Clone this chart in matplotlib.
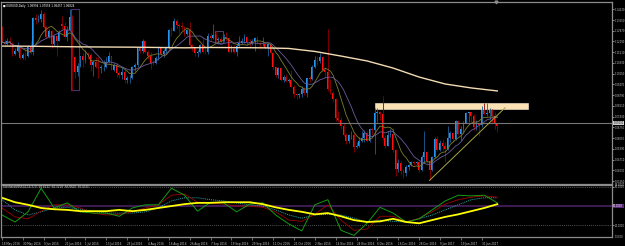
import matplotlib
matplotlib.use("Agg")
import matplotlib.pyplot as plt
from matplotlib.patches import Rectangle
from matplotlib.transforms import blended_transform_factory
import numpy as np
import pandas as pd

# EURUSD daily bars 18 May 2016 - 8 Feb 2017, prices in pips (x 10000)
opens = [11313, 11216, 11203, 11225, 11211, 11140, 11160, 11190, 11115, 11136,
         11130, 11185, 11150, 11365, 11355, 11360, 11395, 11310, 11250, 11285,
         11200, 11255, 11225, 11330, 11315, 11250, 11290, 11375, 11120, 11025,
         11065, 11125, 11105, 11140, 11135, 11070, 11090, 11060, 11050, 11055,
         11060, 11090, 11125, 11040, 11070, 11020, 11010, 11025, 10975, 10990,
         10990, 11060, 11070, 11175, 11160, 11225, 11150, 11130, 11085, 11080,
         11115, 11180, 11140, 11160, 11180, 11290, 11285, 11350, 11325, 11320,
         11310, 11265, 11290, 11195, 11180, 11145, 11155, 11195, 11155, 11150,
         11255, 11240, 11260, 11230, 11235, 11220, 11250, 11240, 11155, 11170,
         11150, 11190, 11210, 11225, 11250, 11215, 11210, 11220, 11240, 11210,
         11205, 11205, 11180, 11200, 11145, 11055, 11005, 11050, 10975, 10995,
         10970, 10975, 10930, 10885, 10880, 10885, 10920, 10895, 10985, 10980,
         11055, 11100, 11095, 11120, 11040, 11025, 10920, 10895, 10855, 10735,
         10720, 10685, 10630, 10590, 10625, 10630, 10550, 10555, 10590, 10610,
         10640, 10590, 10665, 10660, 10765, 10770, 10760, 10610, 10560, 10630,
         10635, 10535, 10410, 10450, 10400, 10385, 10425, 10435, 10455, 10450,
         10455, 10405, 10490, 10520, 10460, 10405, 10485, 10605, 10530, 10575,
         10560, 10540, 10610, 10640, 10605, 10715, 10635, 10665, 10705, 10765,
         10770, 10750, 10680, 10695, 10690, 10800, 10760, 10765, 10785, 10750,
         10699]
highs = [11320, 11236, 11243, 11247, 11218, 11178, 11216, 11196, 11147, 11167,
         11199, 11220, 11375, 11395, 11389, 11416, 11404, 11320, 11298, 11290,
         11260, 11260, 11290, 11380, 11340, 11320, 11427, 11385, 11130, 11080,
         11130, 11145, 11165, 11150, 11145, 11100, 11120, 11120, 11070, 11100,
         11120, 11150, 11130, 11080, 11080, 11030, 11060, 11040, 11000, 11010,
         11065, 11085, 11180, 11185, 11235, 11230, 11165, 11150, 11105, 11125,
         11190, 11185, 11170, 11190, 11300, 11310, 11366, 11360, 11335, 11340,
         11320, 11300, 11340, 11205, 11185, 11165, 11205, 11240, 11175, 11270,
         11270, 11327, 11285, 11250, 11250, 11265, 11280, 11250, 11195, 11195,
         11210, 11255, 11240, 11265, 11255, 11235, 11235, 11245, 11255, 11215,
         11250, 11215, 11200, 11210, 11150, 11065, 11060, 11060, 11005, 11015,
         10985, 11040, 10945, 10895, 10895, 10940, 10930, 10990, 11000, 11070,
         11125, 11125, 11145, 11125, 11055, 11300, 10980, 10905, 10860, 10780,
         10740, 10700, 10640, 10635, 10650, 10640, 10580, 10615, 10655, 10660,
         10655, 10670, 10680, 10795, 10795, 10780, 10874, 10625, 10650, 10665,
         10670, 10540, 10475, 10460, 10410, 10440, 10445, 10465, 10465, 10465,
         10465, 10500, 10650, 10525, 10470, 10495, 10615, 10620, 10595, 10600,
         10585, 10685, 10650, 10645, 10720, 10720, 10685, 10715, 10775, 10775,
         10775, 10760, 10725, 10700, 10810, 10830, 10830, 10800, 10790, 10775,
         10706]
lows = [11213, 11185, 11197, 11193, 11130, 11133, 11150, 11108, 11110, 11100,
        11122, 11140, 11136, 11330, 11340, 11340, 11305, 11240, 11240, 11180,
        11190, 11130, 11220, 11300, 11240, 11225, 11290, 10912, 10990, 11000,
        11055, 11055, 11080, 11110, 11030, 11000, 11050, 10990, 11020, 11030,
        11050, 11085, 11040, 11030, 10995, 10990, 10980, 10955, 10955, 10955,
        10980, 11035, 11060, 11145, 11145, 11145, 11110, 11045, 11070, 11075,
        11100, 11135, 11120, 11145, 11170, 11255, 11285, 11300, 11275, 11290,
        11255, 11260, 11180, 11160, 11130, 11120, 11145, 11145, 11140, 11140,
        11225, 11235, 11215, 11200, 11210, 11215, 11220, 11150, 11150, 11145,
        11125, 11185, 11205, 11210, 11195, 11185, 11195, 11160, 11205, 11180,
        11190, 11170, 11125, 11140, 11045, 10995, 10990, 10970, 10965, 10965,
        10955, 10930, 10870, 10855, 10860, 10865, 10880, 10865, 10965, 10975,
        11050, 11070, 11085, 11030, 10995, 10905, 10885, 10835, 10715, 10710,
        10665, 10620, 10570, 10575, 10600, 10520, 10545, 10550, 10580, 10585,
        10580, 10585, 10625, 10505, 10710, 10720, 10595, 10545, 10555, 10615,
        10520, 10365, 10390, 10380, 10352, 10370, 10405, 10430, 10440, 10435,
        10390, 10400, 10450, 10450, 10340, 10400, 10480, 10525, 10525, 10535,
        10455, 10535, 10585, 10585, 10595, 10630, 10590, 10640, 10700, 10710,
        10710, 10660, 10660, 10620, 10675, 10755, 10750, 10720, 10705, 10665,
        10646]
closes = [11216, 11203, 11225, 11211, 11140, 11160, 11190, 11115, 11136, 11130,
          11185, 11150, 11365, 11355, 11360, 11395, 11310, 11250, 11285, 11200,
          11255, 11225, 11280, 11315, 11250, 11290, 11375, 11120, 11025, 11065,
          11125, 11105, 11140, 11135, 11070, 11090, 11060, 11050, 11055, 11060,
          11090, 11125, 11040, 11070, 11020, 11010, 11025, 10975, 10990, 10990,
          11060, 11070, 11175, 11160, 11225, 11150, 11130, 11085, 11080, 11115,
          11180, 11140, 11160, 11180, 11290, 11285, 11350, 11325, 11320, 11310,
          11265, 11290, 11195, 11180, 11145, 11155, 11195, 11155, 11150, 11255,
          11240, 11260, 11230, 11235, 11220, 11250, 11240, 11155, 11170, 11150,
          11190, 11210, 11225, 11250, 11215, 11210, 11220, 11240, 11210, 11205,
          11205, 11180, 11200, 11145, 11055, 11005, 11050, 10975, 10995, 10970,
          10975, 10930, 10885, 10880, 10885, 10920, 10895, 10985, 10980, 11055,
          11100, 11095, 11120, 11040, 11025, 10920, 10895, 10855, 10735, 10720,
          10685, 10630, 10590, 10625, 10630, 10550, 10555, 10590, 10610, 10640,
          10590, 10665, 10660, 10765, 10770, 10760, 10610, 10560, 10630, 10635,
          10535, 10410, 10450, 10400, 10385, 10425, 10435, 10455, 10450, 10455,
          10405, 10490, 10520, 10460, 10405, 10485, 10605, 10530, 10575, 10560,
          10540, 10610, 10640, 10605, 10715, 10635, 10665, 10705, 10765, 10770,
          10750, 10680, 10695, 10690, 10800, 10760, 10765, 10785, 10750, 10700,
          10682]

# long moving average, read every 10 bars
ma_long = [1.1190, 1.1189, 1.1187, 1.1185, 1.1184, 1.1183, 1.1181, 1.1179, 1.1181, 1.1180,
           1.1179, 1.1175, 1.1156, 1.1127, 1.1096, 1.1051, 1.0994, 1.0950, 1.0925, 1.0906]

# oscillator window lines, read every 5 bars
osc_fast = [36, 25, 41, 78, 47, 55, 41, 39, 39, 34, 47, 52, 52, 78, 67, 42, 56, 55, 41, 53,
            55, 36, 22, 11, 52, 60, 12, 4, 23, 48, 39, 25, 30, 44, 58, 67, 66, 67, 55]
osc_mid = [47, 33, 30, 42, 52, 52, 47, 39, 36, 37, 41, 47, 52, 67, 69, 56, 55, 53, 50, 50,
           48, 41, 28, 26, 37, 52, 28, 12, 14, 34, 34, 25, 31, 41, 53, 60, 64, 66, 64]
osc_slow = [60, 44, 36, 41, 47, 48, 45, 42, 39, 39, 39, 41, 47, 58, 63, 63, 60, 58, 55, 52,
            50, 44, 36, 31, 36, 37, 36, 31, 25, 28, 26, 25, 30, 36, 44, 52, 60, 63, 63]
osc_signal = [63, 56, 52, 47, 45, 44, 42, 42, 42, 44, 42, 44, 47, 50, 53, 55, 55, 56, 56, 56,
              53, 48, 44, 41, 37, 39, 34, 28, 25, 26, 30, 25, 23, 28, 33, 37, 42, 47, 53]

price_ticks = [1.14230, 1.13550, 1.12870, 1.12190, 1.11510, 1.10830, 1.10150, 1.09470, 1.08790,
               1.08110, 1.07430, 1.06750, 1.06070, 1.05390, 1.04710, 1.04030, 1.03350]
date_labels = ["18 May 2016", "30 May 2016", "9 Jun 2016", "21 Jun 2016", "1 Jul 2016",
               "13 Jul 2016", "25 Jul 2016", "4 Aug 2016", "16 Aug 2016", "26 Aug 2016",
               "7 Sep 2016", "19 Sep 2016", "29 Sep 2016", "11 Oct 2016", "21 Oct 2016",
               "2 Nov 2016", "14 Nov 2016", "24 Nov 2016", "6 Dec 2016", "16 Dec 2016",
               "28 Dec 2016", "9 Jan 2017", "19 Jan 2017", "31 Jan 2017"]

bid_line = 1.0703
zone_low, zone_high = 1.0792, 1.0830
header = "EURUSD,Daily  1.06994 1.07058 1.06457 1.06824"
osc_title = "StochasticRSI(14,14,3,3)  58.6132  64.3218  66.8620  56.4315"

o = np.array(opens) / 1e4
h = np.array(highs) / 1e4
l = np.array(lows) / 1e4
c = np.array(closes) / 1e4
x = np.arange(len(c))

W, H = 625, 246
def box(x0, y0, x1, y1):
    return [x0 / W, 1 - y1 / H, (x1 - x0) / W, (y1 - y0) / H]

fig = plt.figure(figsize=(6.25, 2.46), dpi=100, facecolor="black")
ax = fig.add_axes(box(1, 1.5, 612, 183.5))
ax2 = fig.add_axes(box(1, 184.5, 612, 237))

BAR = 2.607  # px per bar
xlim = (-1 / BAR, 610 / BAR)
grey = "#8c8c8c"
txt = "#c8c8c8"
fs = 1.8

for a in (ax, ax2):
    a.set_facecolor("black")
    a.set_xlim(*xlim)
    for s in a.spines.values():
        s.set_color(grey)
        s.set_linewidth(0.9)

# candles
up = c >= o
dn = ~up
ax.vlines(x[up], l[up], h[up], color="#1f5f99", lw=0.6)
ax.vlines(x[dn], l[dn], h[dn], color="#8e0000", lw=0.6)
ax.bar(x[up], np.maximum(c - o, 0.0001)[up], bottom=o[up], width=0.7, color="#2196f3", lw=0)
ax.bar(x[dn], np.maximum(o - c, 0.0001)[dn], bottom=c[dn], width=0.7, color="#ff1010", lw=0)

# moving averages
cs = pd.Series(c)
ax.plot(x, cs.rolling(8, min_periods=1).mean(), color="#7d7d30", lw=0.6)
ax.plot(x, cs.rolling(13, min_periods=1).mean(), color="#6a5b9a", lw=0.6)
ax.plot(np.arange(0, len(c), 10), ma_long, color="#f3dcb4", lw=1.0)

# drawn objects
ax.axhline(bid_line, color="#777777", lw=0.8)
ax.add_patch(Rectangle((143.1, zone_low), 58.7, zone_high - zone_low,
                       facecolor="#fbe2b4", edgecolor="#fff0d6", lw=0.4))
ax.plot([164, 193], [1.0340, 1.0800], color="#a6a63e", lw=0.7)
ax.add_patch(Rectangle((26.5, 1.0912), 3.0, 1.1425 - 1.0912, fill=False,
                       edgecolor="#4a2f6e", lw=0.8))
ax.add_patch(Rectangle((81.7, 1.1209), 3.1, 1.1285 - 1.1209, fill=False,
                       edgecolor="#5c4a7c", lw=0.6))

ylo, yhi = 1.03202, 1.14721
ax.set_ylim(ylo, yhi)
ax.plot([189.5], [yhi], marker="v", ms=2, color=grey, clip_on=False)

ax.set_xticks([])
ax.yaxis.tick_right()
ax.set_yticks(price_ticks)
ax.set_yticklabels([f"{p:.5f}" for p in price_ticks])
ax.tick_params(axis="y", length=1.5, width=0.5, pad=0.4, labelsize=fs, colors=txt)
ax.text(0.004, 0.988, "\u25a0 " + header, transform=ax.transAxes, va="top", ha="left",
        size=fs + 0.2, color="white")
tr = blended_transform_factory(ax.transAxes, ax.transData)
ax.text(1.002, bid_line, f"{bid_line:.5f}", transform=tr, va="center", ha="left", size=fs,
        color="black", bbox=dict(facecolor="#cfcfcf", edgecolor="none", pad=0.3))

# oscillator window
xo = np.arange(0, len(c), 5)
ax2.axhline(50, color="#4a1f63", lw=1.2)
for lev in (80, 20):
    ax2.axhline(lev, color="#6e6e6e", lw=0.6, ls=(0, (1, 1.5)))
ax2.plot(xo, osc_slow, color="#2aa6a6", lw=0.7, ls=(0, (1, 1)))
ax2.plot(xo, osc_mid, color="#a00000", lw=0.6)
ax2.plot(xo, osc_fast, color="#139b13", lw=0.7)
ax2.plot(xo, osc_signal, color="#ffff00", lw=1.3)
ax2.set_ylim(1.5, 83.8)

ax2.yaxis.tick_right()
ax2.set_yticks([80, 20])
ax2.set_yticklabels(["80.0000", "20.0000"])
ax2.tick_params(axis="y", length=1.5, width=0.5, pad=0.4, labelsize=fs, colors=txt)
tr2 = blended_transform_factory(ax2.transAxes, ax2.transData)
ax2.text(1.002, 50, "50.0000", transform=tr2, va="center", ha="left", size=fs,
         color="white", bbox=dict(facecolor="#5a2a7a", edgecolor="none", pad=0.3))
ax2.text(1.004, 83.8, "83.8000", transform=tr2, va="center", ha="left", size=fs, color=txt)
ax2.text(1.004, 1.5, "1.5000", transform=tr2, va="center", ha="left", size=fs, color=txt)
ax2.text(0.003, 0.985, osc_title, transform=ax2.transAxes, va="top", ha="left",
         size=fs + 0.2, color=txt)

ax2.set_xticks(np.arange(0, 8 * len(date_labels), 8))
ax2.set_xticklabels(date_labels, ha="left", size=fs + 0.2, color=txt)
ax2.tick_params(axis="x", length=2, width=0.5, pad=1.5, colors=grey, labelcolor=txt)

fig.savefig("out.png", dpi=100, facecolor="black")
